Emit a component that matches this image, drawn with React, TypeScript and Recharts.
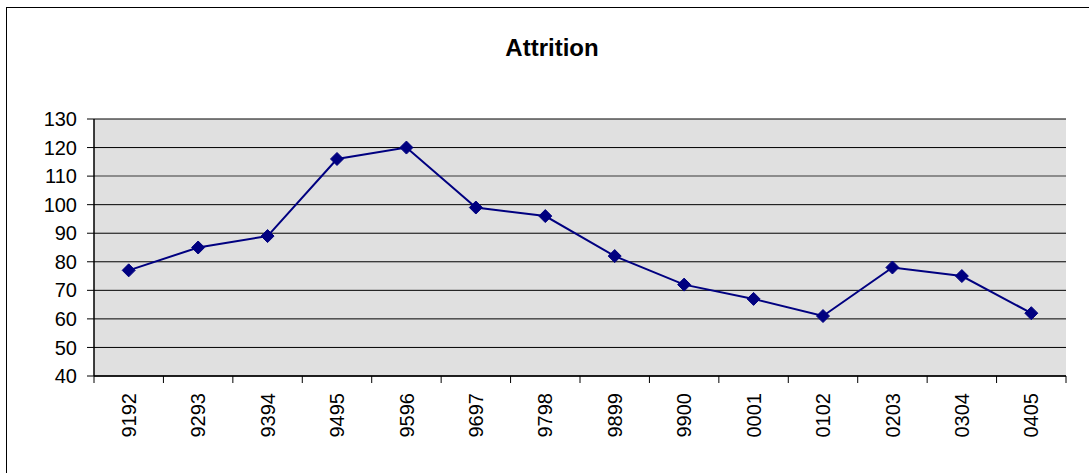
import { CartesianGrid, ComposedChart, Line, XAxis, YAxis } from 'recharts';

const years = ['9192', '9293', '9394', '9495', '9596', '9697', '9798', '9899', '9900', '0001', '0102', '0203', '0304', '0405'];
const attrition = [77, 85, 89, 116, 120, 99, 96, 82, 72, 67, 61, 78, 75, 62];
const yTicks = [40, 50, 60, 70, 80, 90, 100, 110, 120, 130];

const data = years.map((year, i) => ({ year, attrition: attrition[i] }));

const W = 1089;
const H = 473;
const PLOT_LEFT = 94;
const PLOT_RIGHT = 1066;
const PLOT_TOP = 119;
const PLOT_BOTTOM = 376;
const BAND = (PLOT_RIGHT - PLOT_LEFT) / years.length;
const FONT = '"Liberation Sans", Arial, sans-serif';

function YearTick(props: any) {
  const { x, index } = props;
  const axisY = PLOT_BOTTOM;
  return (
    <g>
      <line x1={x - BAND / 2} x2={x - BAND / 2} y1={axisY} y2={axisY + 7} stroke="#000" />
      {index === years.length - 1 && (
        <line x1={x + BAND / 2} x2={x + BAND / 2} y1={axisY} y2={axisY + 7} stroke="#000" />
      )}
      <text
        x={0}
        y={0}
        transform={`translate(${x}, ${axisY + 17}) rotate(-90)`}
        textAnchor="end"
        dy="0.36em"
        fontSize={20}
        fontFamily={FONT}
        fill="#000"
      >
        {props.payload.value}
      </text>
    </g>
  );
}

// gridline at 110 looks grey and a bit heavier in the original
function GridLine(props: any) {
  const { x1, x2, y1, y2 } = props;
  const grey = Math.abs(y1 - 176) < 3;
  return (
    <line
      x1={x1}
      x2={x2}
      y1={y1}
      y2={y2}
      stroke={grey ? '#707070' : '#000'}
      strokeWidth={grey ? 1.5 : 1}
    />
  );
}

function Diamond(props: any) {
  const { cx, cy } = props;
  if (cx == null || cy == null) return null;
  const r = 6.5;
  return (
    <polygon
      points={`${cx},${cy - r} ${cx + r},${cy} ${cx},${cy + r} ${cx - r},${cy}`}
      fill="#000080"
      stroke="#000080"
    />
  );
}

export default function App() {
  return (
    <div style={{ position: 'absolute', left: 0, top: 0, width: W, height: H, background: '#fff', overflow: 'hidden' }}>
      <div
        style={{
          position: 'absolute',
          left: 6,
          top: 7,
          width: 1100,
          height: 480,
          border: '1px solid #000',
          boxSizing: 'border-box',
        }}
      />
      <div
        style={{
          position: 'absolute',
          left: 6,
          width: 1092,
          top: 33,
          textAlign: 'center',
          fontFamily: FONT,
          fontWeight: 'bold',
          fontSize: 24,
          lineHeight: '30px',
          color: '#000',
        }}
      >
        Attrition
      </div>
      <div style={{ position: 'absolute', left: 0, top: 0 }}>
        <ComposedChart
          width={W}
          height={H}
          data={data}
          margin={{ top: PLOT_TOP, right: W - PLOT_RIGHT, bottom: 0, left: 0 }}
        >
          <CartesianGrid vertical={false} horizontal={(p: any) => <GridLine key={p.key} {...p} />} fill="#E0E0E0" fillOpacity={1} />
          <XAxis
            dataKey="year"
            scale="band"
            height={H - PLOT_BOTTOM}
            axisLine={{ stroke: '#000', strokeWidth: 1.5 }}
            tickLine={false}
            tick={<YearTick />}
            interval={0}
          />
          <XAxis xAxisId="top" orientation="top" dataKey="year" scale="band" height={0} tick={false} tickLine={false} axisLine={{ stroke: '#808080', strokeWidth: 2.5 }} />
          <YAxis
            domain={[40, 130]}
            ticks={yTicks}
            interval={0}
            width={PLOT_LEFT}
            tickSize={7}
            tickMargin={10}
            axisLine={{ stroke: '#000', strokeWidth: 1.5 }}
            tickLine={{ stroke: '#000' }}
            tick={{ fontSize: 20, fill: '#000', fontFamily: FONT }}
          />
          <YAxis yAxisId="right" orientation="right" domain={[40, 130]} width={0} tick={false} tickLine={false} axisLine={{ stroke: '#808080', strokeWidth: 2.5 }} />
          <Line
            type="linear"
            dataKey="attrition"
            stroke="#000080"
            strokeWidth={2}
            dot={<Diamond />}
            activeDot={false}
            isAnimationActive={false}
          />
        </ComposedChart>
      </div>
    </div>
  );
}
